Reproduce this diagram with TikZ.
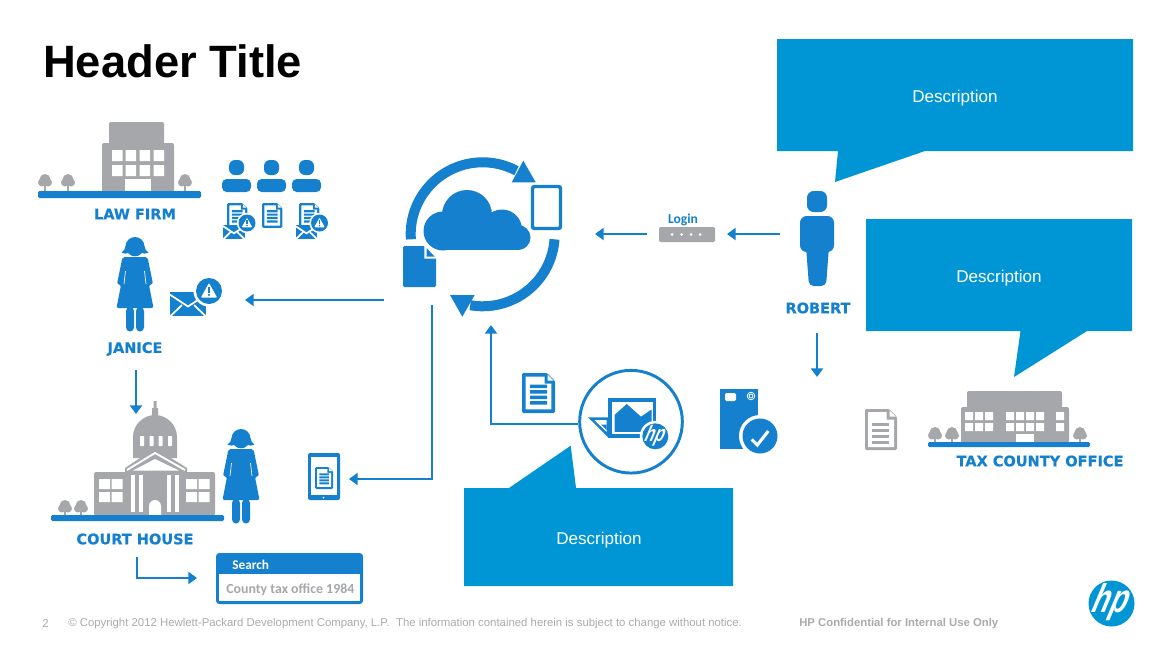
\documentclass[tikz,border=0pt]{standalone}
\usepackage{fontspec}
\setmainfont{Liberation Sans}
\newfontfamily\labfont[BoldFont={DejaVu Sans Bold},BoldFeatures={FakeBold=0.5}]{DejaVu Sans}
\newfontfamily\uifont{Carlito}
\usetikzlibrary{arrows.meta}
\definecolor{ib}{HTML}{1580CE}
\definecolor{cb}{HTML}{0096D6}
\definecolor{gy}{HTML}{A5A7AA}
\definecolor{ft}{HTML}{A9ABAE}
\tikzset{
  conn/.style={draw=ib,line width=2.1pt,-{Triangle[length=6.5pt,width=9pt]}},
  lab/.style={inner sep=0pt,text=ib,font=\labfont\bfseries\fontsize{10.9pt}{12pt}\selectfont},
  descr/.style={inner sep=0pt,text=white,font=\fontsize{12.8pt}{14pt}\selectfont},
  callout/.style={fill=cb},
  foot/.style={inner sep=0pt,anchor=west,text=ft,font=\fontsize{8.53pt}{10pt}\selectfont},
  hpmark/.style={inner sep=0pt,text=white,xslant=.42},
}
% tree: x, ground y, crown centre offset
\newcommand{\treeic}[3]{%
  \fill[gy] (#1-.8,#2) rectangle (#1+.8,#2-#3);
  \fill[gy] (#1,#2-#3-.5-5) circle (5.5) (#1-3,#2-#3-2.5) circle (4) (#1+3,#2-#3-2.5) circle (4);
}
% woman: centre x, top y
\newcommand{\womanic}[2]{%
  \begin{scope}[shift={(#1,#2)}]
    \fill[ib] (0,9.5) circle (9.5);
    \fill[ib] (0,11) circle (8.3);
    \fill[ib] (-9.5,9) .. controls (-10,12) and (-11,14.5) .. (-13.5,15.5) .. controls (-10,17) and (-8,17) .. (-6,15.5) -- (6,15.5) .. controls (8,17) and (10,17) .. (13.5,15.5) .. controls (11,14.5) and (10,12) .. (9.5,9) -- cycle;
    \fill[ib,rounded corners=1.5pt] (-12.5,20) -- (12.5,20) -- (18,47) -- (14,48) -- (18.5,71) -- (-18.5,71) -- (-14,48) -- (-18,47) -- cycle;
    \draw[white,line width=.5pt] (-9.5,34) -- (-11,47) (9.5,34) -- (11,47);
    \fill[ib,rounded corners=3pt] (-9,70) rectangle (-1,94.5);
    \fill[ib,rounded corners=3pt] (1,70) rectangle (9,94.5);
  \end{scope}}
% person in group: left x, top y
\newcommand{\userb}[2]{%
  \fill[ib,rounded corners=4.5pt] (#1+7,#2) rectangle (#1+22,#2+15);
  \fill[ib,rounded corners=3.5pt] (#1,#2+19) rectangle (#1+29,#2+32);
}
% document: x, y, scale, colour (33x40)
\newcommand{\docic}[4]{%
  \begin{scope}[shift={(#1,#2)},scale=#3]
    \fill[#4,rounded corners=1pt] (0,0) -- (25,0) -- (33,8) -- (33,40) -- (0,40) -- cycle;
    \fill[white] (3.7,3.7) -- (22.5,3.7) -- (22.5,10.5) -- (29.3,10.5) -- (29.3,36.3) -- (3.7,36.3) -- cycle;
    \fill[white] (25.5,1.5) -- (31.5,7.5) -- (25.5,7.5) -- cycle;
    \fill[#4] (8,11.5) rectangle (25,15) (8,17) rectangle (25,20.5) (8,22.5) rectangle (25,26) (8,28) rectangle (25,31.5);
  \end{scope}}
% envelope: x, y, scale (36x24)
\newcommand{\envic}[3]{%
  \begin{scope}[shift={(#1,#2)},scale=#3]
    \fill[ib] (0,0) rectangle (36,24);
    \draw[white,line width=1.3pt] (-1,2) -- (18,14.5) -- (37,2) (0,24.5) -- (12,13) (36,24.5) -- (24,13);
  \end{scope}}
% alert: cx, cy, r
\newcommand{\alertic}[3]{%
  \fill[white] (#1,#2) circle (#3*1.2);
  \fill[ib] (#1,#2) circle (#3);
  \fill[white,rounded corners=.6pt] (#1,#2-#3*.62) -- (#1+#3*.62,#2+#3*.5) -- (#1-#3*.62,#2+#3*.5) -- cycle;
  \fill[ib] (#1-#3*.09,#2-#3*.3) rectangle (#1+#3*.09,#2+#3*.14);
  \fill[ib] (#1,#2+#3*.3) circle (#3*.1);
}
\newcommand{\hptxt}{\textbf{\scalebox{.85}[1.2]{hp}}}
\begin{document}
\begin{tikzpicture}[x=.75pt,y=-.75pt]
\useasboundingbox (0,0) rectangle (1170,658);
\fill[white] (0,0) rectangle (1170,658);

% title and footer
\node[inner sep=0pt,anchor=base west,font=\bfseries\fontsize{34pt}{36pt}\selectfont] (title) at (43,77) {Header Title};
\node[foot] (pageno) at (42,624) {2};
\node[foot] (copyr) at (68,624) {© Copyright 2012 Hewlett-Packard Development Company, L.P.\ \ The information contained herein is subject to change without notice.};
\node[foot,font=\bfseries\fontsize{8.5pt}{10pt}\selectfont] (conf) at (799,624) {HP Confidential for Internal Use Only};

% callouts
\fill[callout] (777,39) -- (1133,39) -- (1133,151) -- (925,151) -- (835,182) -- (838,151) -- (777,151) -- cycle;
\node[descr] (d1) at (955,98) {Description};
\fill[callout] (866,219) -- (1132,219) -- (1132,331) -- (1087,331) -- (1014,377) -- (1020.5,331) -- (866,331) -- cycle;
\node[descr] (d2) at (999,278) {Description};
\fill[callout] (464,488) -- (509,488) -- (570.7,445.7) -- (576,488) -- (733,488) -- (733,586) -- (464,586) -- cycle;
\node[descr] (d3) at (599,540) {Description};

% law firm
\fill[gy,rounded corners=1.5pt] (109,122) rectangle (164,150);
\fill[gy,rounded corners=1.5pt] (102,143) rectangle (174,192);
\foreach \x in {112,125.5,139.5,153.5}{\fill[white] (\x,150) rectangle (\x+10.5,161) (\x,165) rectangle (\x+10.5,176);}
\fill[white] (125,179) rectangle (151,191);
\treeic{45}{191}{6}\treeic{68}{191}{6}\treeic{185}{191}{6}
\fill[ib,rounded corners=1pt] (38,191) rectangle (201,198);
\node[lab] (law) at (135,214) {LAW FIRM};
\userb{222}{160}\userb{257}{160}\userb{292}{160}
\docic{227}{203}{.62}{ib}\envic{223}{224.5}{.61}\alertic{247}{223}{8.5}
\docic{262}{203}{.62}{ib}
\docic{299}{203}{.62}{ib}\envic{295.5}{224.5}{.61}\alertic{319.5}{223}{8.5}

% Janice
\womanic{135}{237}
\envic{170}{292}{1}\alertic{209}{291}{13}
\node[lab] (janice) at (135,349) {JANICE};

% court house
\fill[gy] (153.5,401) rectangle (156.5,410) (152,408) rectangle (158,418);
\fill[gy] (133,458) -- (133,437) .. controls (133,424) and (144,415) .. (155,415) .. controls (166,415) and (177,424) .. (177,437) -- (177,458) -- cycle;
\foreach \x in {140,149.5,158.5,168}{\fill[white,rounded corners=.5pt] (\x,436) rectangle (\x+4,446);}
\fill[gy,rounded corners=1.5pt] (94,472) rectangle (215,515.5);
\fill[gy] (125,468) -- (155,448) -- (187,468) -- (187,515) -- (125,515) -- cycle;
\draw[white,line width=1.4pt] (127,470) -- (155,453) -- (185,470);
\fill[white] (133,470.5) -- (155,459) -- (179,470.5) -- cycle;
\foreach \x in {99,111.5,186,198.5}{\fill[white] (\x,479) rectangle (\x+11,489) (\x,492) rectangle (\x+11,502);}
\foreach \x in {131,139,167,175}{\fill[white] (\x,475) rectangle (\x+3.8,512);}
\fill[white] (149,515) -- (149,506) arc[start angle=180,end angle=0,radius=4.5pt] -- (161,515) -- cycle;
\treeic{65}{515}{4}\treeic{81}{515}{4}
\fill[ib,rounded corners=1pt] (51,515) rectangle (224,521);
\womanic{241}{429}
\node[lab] (court) at (135,539) {COURT HOUSE};

% search box
\fill[ib,rounded corners=2.5pt] (216,553) rectangle (363,604);
\fill[white] (219,574) rectangle (360,601);
\node[inner sep=0pt,anchor=west,text=white,font=\uifont\bfseries\fontsize{10pt}{11pt}\selectfont] (search) at (232,565) {Search};
\node[inner sep=0pt,anchor=west,text=gy,font=\uifont\bfseries\fontsize{10.4pt}{11pt}\selectfont] (county) at (226,590) {County tax office 1984};

% tablet
\fill[ib,rounded corners=1.5pt] (308,453) rectangle (340,500);
\fill[white] (311,457) rectangle (337,495);
\fill[white] (323.5,497.5) circle (1);
\docic{315}{467}{.55}{ib}

% cycle
\coordinate (cyc) at (482.7,234.3);
\draw[ib,line width=7.5pt] (cyc) ++(184:54pt) arc[start angle=184,end angle=62,radius=54pt];
\draw[ib,line width=7.5pt] (cyc) ++(-4:54pt) arc[start angle=-4,end angle=-100,radius=54pt];
\fill[ib] (523.3,160.7) -- (535.7,182.3) -- (511.7,182.3) -- cycle;
\fill[ib] (450,295) -- (474.7,295) -- (462.3,316.7) -- cycle;
% cloud
\fill[ib] (467,215) circle (25) (443,231) circle (19.5) (502,229.5) circle (20) (518,237.5) circle (12.5);
\fill[ib] (443,225) rectangle (518,250);
% file
\fill[ib,rounded corners=1pt] (403,246) -- (425,246) -- (436,257) -- (436,287) -- (403,287) -- cycle;
\fill[white] (425,245) -- (437,257) -- (437,258.5) -- (424.3,258.5) -- (424.3,245) -- cycle;
\fill[ib] (426.5,248) -- (434.5,256.5) -- (426.5,256.5) -- cycle;
% outline tablet
\draw[ib,line width=2.6pt,rounded corners=1.5pt,fill=white] (532.5,186.5) rectangle (560.5,228.5);

% login
\node[inner sep=0pt,text=ib,font=\uifont\bfseries\fontsize{10.2pt}{12pt}\selectfont] (login) at (683,219.5) {Login};
\fill[gy,rounded corners=1pt] (659,227) rectangle (715,242);
\foreach \x in {672,681.5,691,700}{\fill[white] (\x,234.5) circle (1.5);}

% Robert
\fill[ib,rounded corners=5pt] (807,191) rectangle (827,212);
\fill[ib,rounded corners=3.5pt] (805.5,240) -- (809,286) -- (826,286) -- (829.5,240) -- cycle;
\fill[ib,rounded corners=5pt] (800,216) rectangle (834,252);
\node[lab] (robert) at (818,308) {ROBERT};

% small doc and photo
\docic{522}{373}{1}{ib}
\node[draw=ib,line width=2.2pt,circle,minimum size=77pt,inner sep=0pt,fill=white] (hpc) at (631,421.7) {};
\fill[ib] (588,417.3) -- (609,417.3) -- (609,438) -- cycle;
\fill[white] (594.3,420) -- (606.7,420) -- (606.7,432) -- cycle;
\fill[ib] (601,424.5) -- (606.7,424.5) -- (606.7,430) -- cycle;
\fill[ib] (608,398) rectangle (656,438);
\fill[white] (612.3,402.3) rectangle (653.3,433.5);
\fill[ib] (614.5,431.8) -- (614.5,415) -- (626.7,404) -- (641,416.7) -- (651.5,409.5) -- (651.5,431.8) -- cycle;
\fill[white] (655.3,436.3) circle (15.5);
\fill[ib] (655.3,436.3) circle (13);
\node[hpmark,font=\fontsize{14pt}{16pt}\selectfont] (hpsmall) at (655.3,435.5) {\hptxt};

% scan device
\fill[ib] (720,389) rectangle (758,449);
\fill[white,rounded corners=1pt] (725,393) rectangle (736,401);
\draw[white,line width=.6pt] (751,396) circle (3.8);
\draw[white,line width=.6pt] (751,396) circle (2);
\fill[white] (760,436) circle (21);
\fill[ib] (760,436) circle (17.5);
\draw[white,line width=2.3pt] (751.7,439.5) -- (757.3,445) -- (768.3,431);

% tax doc
\begin{scope}[shift={(865,409)}]
  \fill[gy,rounded corners=1pt] (0,0) -- (24,0) -- (32,8) -- (32,41) -- (0,41) -- cycle;
  \fill[white] (3,3) -- (21.5,3) -- (21.5,10.5) -- (29,10.5) -- (29,38) -- (3,38) -- cycle;
  \fill[white] (24.5,1.5) -- (30.5,7.5) -- (24.5,7.5) -- cycle;
  \foreach \y in {14,20,26,32}{\fill[gy] (7,\y) rectangle (24,\y+2.5);}
\end{scope}

% tax office
\fill[gy,rounded corners=1.5pt] (967,391) rectangle (1062,412);
\fill[gy,rounded corners=1.5pt] (961,407) rectangle (1069,443);
\foreach \x in {965,975,985,1006,1016,1026,1036,1056}{\fill[white] (\x,412) rectangle (\x+8,420) (\x,423) rectangle (\x+8,431);}
\fill[white] (1016,434) rectangle (1034,442);
\treeic{935}{442}{4}\treeic{952}{442}{4}\treeic{1080}{442}{4}
\fill[ib,rounded corners=1pt] (928,442) rectangle (1090,447);
\node[lab] (tax) at (1040,461) {TAX COUNTY OFFICE};

% logo
\fill[cb] (1111.5,603.5) circle (23);
\node[hpmark,font=\fontsize{25pt}{28pt}\selectfont] (hplogo) at (1111.5,602) {\hptxt};

% connector end points
\coordinate (a1s) at (384,300); \coordinate (a1e) at (245,300);
\coordinate (a2s) at (136,370); \coordinate (a2e) at (136,414);
\coordinate (a3s) at (432,305); \coordinate (a3c) at (432,479); \coordinate (a3e) at (349,479);
\coordinate (a4s) at (137,557); \coordinate (a4c) at (137,578); \coordinate (a4e) at (197,578);
\coordinate (a5c) at (491,424); \coordinate (a5e) at (491,325);
\coordinate (a6s) at (780,234); \coordinate (a6e) at (727,234);
\coordinate (a7s) at (647,234); \coordinate (a7e) at (595,234);
\coordinate (a8s) at (817,333); \coordinate (a8e) at (817,377);
\draw[conn] (a1s) -- (a1e);
\draw[conn] (a2s) -- (a2e);
\draw[conn] (a3s) -- (a3c) -- (a3e);
\draw[conn] (a4s) -- (a4c) -- (a4e);
\draw[conn] (hpc.west |- a5c) -- (a5c) -- (a5e);
\draw[conn] (a6s) -- (a6e);
\draw[conn] (a7s) -- (a7e);
\draw[conn] (a8s) -- (a8e);
\end{tikzpicture}
\end{document}
